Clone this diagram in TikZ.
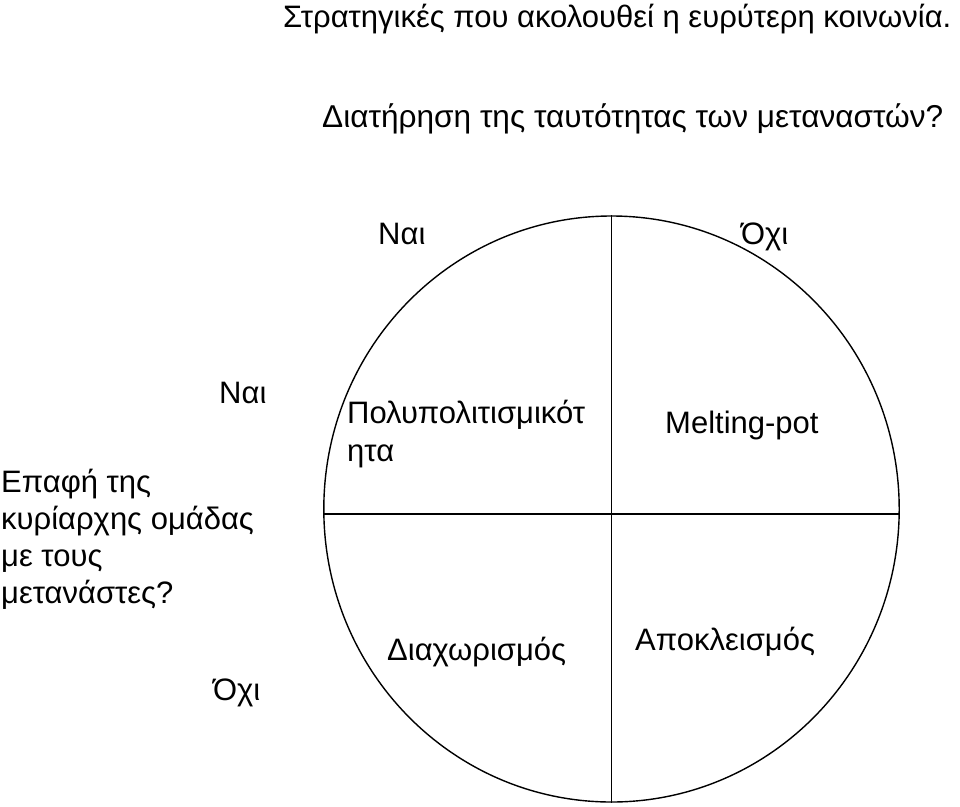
\documentclass[tikz,border=0pt]{standalone}
\usepackage{fontspec}
\setmainfont{Liberation Sans}
\usetikzlibrary{shapes.geometric}
\tikzset{
  lbl/.style={anchor=base west, inner sep=0pt, font=\fontsize{31}{37}\selectfont},
  ttl/.style={anchor=base west, inner sep=0pt, font=\fontsize{31}{36}\selectfont},
  ttlb/.style={anchor=base west, inner sep=0pt, font=\fontsize{31.6}{36}\selectfont},
  rule/.style={draw=black, line width=1.4pt}
}
\begin{document}
\begin{tikzpicture}[x=1pt,y=-1pt]
\useasboundingbox (0,0) rectangle (960,806);
% titles
\node[ttl] (t1) at (283,27) {Στρατηγικές που ακολουθεί η ευρύτερη κοινωνία.};
\node[ttlb] (t2) at (322,127) {Διατήρηση της ταυτότητας των μεταναστών?};
% column headers
\node[lbl] (cy) at (378,244) {Ναι};
\node[lbl] (cn) at (741,244) {Όχι};
% row headers
\node[lbl] (ry) at (219,403) {Ναι};
\node[lbl] (rn) at (213,700) {Όχι};
\node[lbl] (q1) at (1,492) {Επαφή της};
\node[lbl] (q2) at (1,529) {κυρίαρχης ομάδας};
\node[lbl] (q3) at (1,566) {με τους};
\node[lbl] (q4) at (1,603) {μετανάστες?};
% circle
\node[ellipse, rule, minimum width=575.4pt, minimum height=586pt, inner sep=0pt] (circ) at (611.5,509) {};
\coordinate (hl) at (323.8,514);
\coordinate (hr) at (899.2,514);
\draw[rule] (circ.north) -- (circ.south);
\draw[rule] (hl) -- (hr);
% quadrant texts
\node[lbl] (a1) at (347,423) {Πολυπολιτισμικότ};
\node[lbl] (a2) at (347,461) {ητα};
\node[lbl] (b) at (665,433) {Melting-pot};
\node[lbl] (c) at (387,660) {Διαχωρισμός};
\node[lbl] (d) at (635,650) {Αποκλεισμός};
\end{tikzpicture}
\end{document}
